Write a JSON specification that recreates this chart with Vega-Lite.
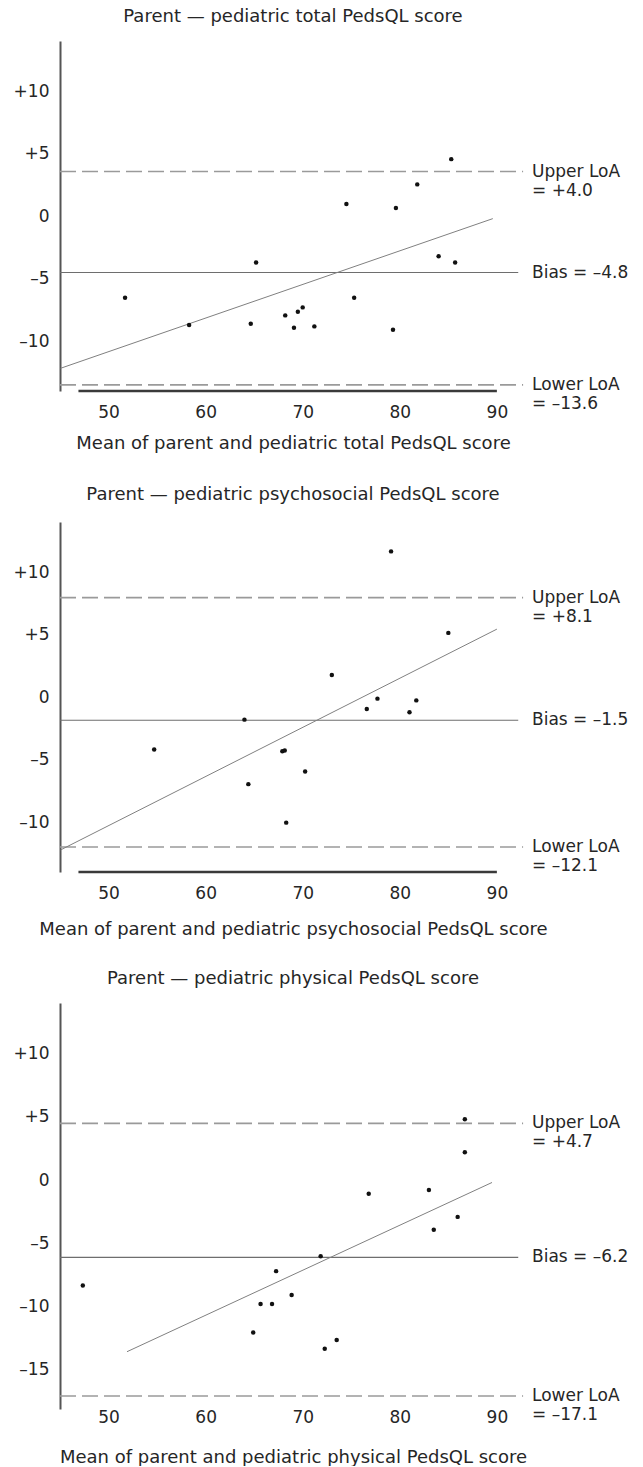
{
  "$schema": "https://vega.github.io/schema/vega-lite/v6.json",
  "usermeta": {"embedOptions": {"actions": false}},
  "background": "white",
  "padding": {"left": 13, "top": 8, "right": 0, "bottom": 0},
  "bounds": "flush",
  "spacing": 131,
  "datasets": {
    "pts": [
      {"p": 1, "x": 51.7, "y": -6.54}, {"p": 1, "x": 58.3, "y": -8.72}, {"p": 1, "x": 64.65, "y": -8.62},
      {"p": 1, "x": 65.2, "y": -3.72}, {"p": 1, "x": 68.2, "y": -7.95}, {"p": 1, "x": 69.1, "y": -8.94},
      {"p": 1, "x": 69.5, "y": -7.66}, {"p": 1, "x": 70.0, "y": -7.31}, {"p": 1, "x": 71.2, "y": -8.83},
      {"p": 1, "x": 74.5, "y": 0.96}, {"p": 1, "x": 75.3, "y": -6.54}, {"p": 1, "x": 79.3, "y": -9.1},
      {"p": 1, "x": 79.6, "y": 0.64}, {"p": 1, "x": 81.8, "y": 2.53}, {"p": 1, "x": 84.0, "y": -3.22},
      {"p": 1, "x": 85.3, "y": 4.55}, {"p": 1, "x": 85.7, "y": -3.72},
      {"p": 2, "x": 54.7, "y": -4.2}, {"p": 2, "x": 64.0, "y": -1.81}, {"p": 2, "x": 64.4, "y": -6.97},
      {"p": 2, "x": 67.9, "y": -4.34}, {"p": 2, "x": 68.15, "y": -4.28}, {"p": 2, "x": 68.3, "y": -10.05},
      {"p": 2, "x": 70.25, "y": -5.96}, {"p": 2, "x": 73.0, "y": 1.76}, {"p": 2, "x": 76.6, "y": -0.96},
      {"p": 2, "x": 77.7, "y": -0.13}, {"p": 2, "x": 79.1, "y": 11.65}, {"p": 2, "x": 81.0, "y": -1.22},
      {"p": 2, "x": 81.7, "y": -0.27}, {"p": 2, "x": 85.0, "y": 5.13},
      {"p": 3, "x": 47.35, "y": -8.33}, {"p": 3, "x": 64.9, "y": -12.06}, {"p": 3, "x": 65.66, "y": -9.79},
      {"p": 3, "x": 66.84, "y": -9.79}, {"p": 3, "x": 67.26, "y": -7.2}, {"p": 3, "x": 68.86, "y": -9.08},
      {"p": 3, "x": 71.85, "y": -6.03}, {"p": 3, "x": 72.27, "y": -13.33}, {"p": 3, "x": 73.5, "y": -12.65},
      {"p": 3, "x": 76.8, "y": -1.08}, {"p": 3, "x": 83.0, "y": -0.79}, {"p": 3, "x": 83.5, "y": -3.92},
      {"p": 3, "x": 85.96, "y": -2.91}, {"p": 3, "x": 86.7, "y": 2.2}, {"p": 3, "x": 86.7, "y": 4.81}
    ],
    "refs": [
      {"p": 1, "k": "loa", "x": 45, "x2": 92.7, "y": 3.56},
      {"p": 1, "k": "loa", "x": 45, "x2": 92.7, "y": -13.51},
      {"p": 1, "k": "bias", "x": 45, "x2": 92.2, "y": -4.52},
      {"p": 1, "k": "base", "x": 46.9, "x2": 90, "y": -14},
      {"p": 2, "k": "loa", "x": 45, "x2": 92.7, "y": 7.95},
      {"p": 2, "k": "loa", "x": 45, "x2": 92.7, "y": -12.0},
      {"p": 2, "k": "bias", "x": 45, "x2": 92.2, "y": -1.86},
      {"p": 2, "k": "base", "x": 46.9, "x2": 90, "y": -14},
      {"p": 3, "k": "loa", "x": 45, "x2": 92.7, "y": 4.48},
      {"p": 3, "k": "loa", "x": 45, "x2": 92.7, "y": -17.07},
      {"p": 3, "k": "bias", "x": 45, "x2": 92.2, "y": -6.11}
    ],
    "reg": [
      {"p": 1, "x": 45.07, "y": -12.18}, {"p": 1, "x": 89.58, "y": -0.21},
      {"p": 2, "x": 45.07, "y": -12.23}, {"p": 2, "x": 90.0, "y": 5.43},
      {"p": 3, "x": 51.9, "y": -13.57}, {"p": 3, "x": 89.5, "y": -0.19}
    ],
    "labs": [
      {"p": 1, "x": 93, "y": 3.56, "t": "Upper LoA\n= +4.0"},
      {"p": 1, "x": 93, "y": -4.52, "t": "Bias = –4.8"},
      {"p": 1, "x": 93, "y": -13.51, "t": "Lower LoA\n= –13.6"},
      {"p": 2, "x": 93, "y": 7.95, "t": "Upper LoA\n= +8.1"},
      {"p": 2, "x": 93, "y": -1.86, "t": "Bias = –1.5"},
      {"p": 2, "x": 93, "y": -12.0, "t": "Lower LoA\n= –12.1"},
      {"p": 3, "x": 93, "y": 4.48, "t": "Upper LoA\n= +4.7"},
      {"p": 3, "x": 93, "y": -6.11, "t": "Bias = –6.2"},
      {"p": 3, "x": 93, "y": -17.07, "t": "Lower LoA\n= –17.1"}
    ]
  },
  "vconcat": [
    {
      "width": 466, "height": 350,
      "title": {"text": "Parent — pediatric total PedsQL score", "offset": 1, "baseline": "alphabetic"},
      "encoding": {
        "x": {"field": "x", "type": "quantitative", "scale": {"domain": [45, 93], "nice": false, "zero": false},
              "axis": {"values": [50, 60, 70, 80, 90], "labelOverlap": false, "labelBound": false, "labelFlush": false, "labelPadding": 13, "titlePadding": 14, "title": "Mean of parent and pediatric total PedsQL score"}},
        "y": {"field": "y", "type": "quantitative", "scale": {"domain": [-14, 14], "nice": false, "zero": false},
              "axis": {"values": [10, 5, 0, -5, -10], "title": null}}
      },
      "layer": [
        {"data": {"name": "refs"}, "transform": [{"filter": "datum.p == 1 && datum.k == 'loa'"}], "mark": {"type": "rule", "color": "#9a9a9a", "strokeWidth": 1.6, "strokeDash": [16, 6]}, "encoding": {"x2": {"field": "x2"}}},
        {"data": {"name": "refs"}, "transform": [{"filter": "datum.p == 1 && datum.k == 'bias'"}], "mark": {"type": "rule", "color": "#6e6e6e", "strokeWidth": 1.2}, "encoding": {"x2": {"field": "x2"}}},
        {"data": {"name": "refs"}, "transform": [{"filter": "datum.p == 1 && datum.k == 'base'"}], "mark": {"type": "rule", "color": "#3a3a3a", "strokeWidth": 2.5}, "encoding": {"x2": {"field": "x2"}}},
        {"data": {"name": "reg"}, "transform": [{"filter": "datum.p == 1"}], "mark": {"type": "line", "color": "#808080", "strokeWidth": 1}, "encoding": {}},
        {"data": {"name": "pts"}, "transform": [{"filter": "datum.p == 1"}], "mark": {"type": "circle", "color": "#111", "size": 20, "opacity": 1}, "encoding": {}},
        {"data": {"name": "labs"}, "transform": [{"filter": "datum.p == 1"}], "mark": {"type": "text", "align": "left", "baseline": "middle", "dx": 6, "lineBreak": "\n", "lineHeight": 19, "fontSize": 17, "color": "#262626"}, "encoding": {"text": {"field": "t"}}}
      ]
    },
    {
      "width": 466, "height": 350,
      "title": {"text": "Parent — pediatric psychosocial PedsQL score", "offset": 4, "baseline": "alphabetic"},
      "encoding": {
        "x": {"field": "x", "type": "quantitative", "scale": {"domain": [45, 93], "nice": false, "zero": false},
              "axis": {"values": [50, 60, 70, 80, 90], "labelOverlap": false, "labelBound": false, "labelFlush": false, "labelPadding": 13, "titlePadding": 19, "title": "Mean of parent and pediatric  psychosocial PedsQL score"}},
        "y": {"field": "y", "type": "quantitative", "scale": {"domain": [-14, 14], "nice": false, "zero": false},
              "axis": {"values": [10, 5, 0, -5, -10], "title": null}}
      },
      "layer": [
        {"data": {"name": "refs"}, "transform": [{"filter": "datum.p == 2 && datum.k == 'loa'"}], "mark": {"type": "rule", "color": "#9a9a9a", "strokeWidth": 1.6, "strokeDash": [16, 6]}, "encoding": {"x2": {"field": "x2"}}},
        {"data": {"name": "refs"}, "transform": [{"filter": "datum.p == 2 && datum.k == 'bias'"}], "mark": {"type": "rule", "color": "#6e6e6e", "strokeWidth": 1.2}, "encoding": {"x2": {"field": "x2"}}},
        {"data": {"name": "refs"}, "transform": [{"filter": "datum.p == 2 && datum.k == 'base'"}], "mark": {"type": "rule", "color": "#3a3a3a", "strokeWidth": 2.5}, "encoding": {"x2": {"field": "x2"}}},
        {"data": {"name": "reg"}, "transform": [{"filter": "datum.p == 2"}], "mark": {"type": "line", "color": "#808080", "strokeWidth": 1}, "encoding": {}},
        {"data": {"name": "pts"}, "transform": [{"filter": "datum.p == 2"}], "mark": {"type": "circle", "color": "#111", "size": 20, "opacity": 1}, "encoding": {}},
        {"data": {"name": "labs"}, "transform": [{"filter": "datum.p == 2"}], "mark": {"type": "text", "align": "left", "baseline": "middle", "dx": 6, "lineBreak": "\n", "lineHeight": 19, "fontSize": 17, "color": "#262626"}, "encoding": {"text": {"field": "t"}}}
      ]
    },
    {
      "width": 466, "height": 406,
      "title": {"text": "Parent — pediatric  physical PedsQL score", "offset": 1, "baseline": "alphabetic"},
      "encoding": {
        "x": {"field": "x", "type": "quantitative", "scale": {"domain": [45, 93], "nice": false, "zero": false},
              "axis": {"values": [50, 60, 70, 80, 90], "labelOverlap": false, "labelBound": false, "labelFlush": false, "labelPadding": 0, "titlePadding": 23, "title": "Mean of parent and pediatric  physical PedsQL score"}},
        "y": {"field": "y", "type": "quantitative", "scale": {"domain": [-18.1, 14], "nice": false, "zero": false},
              "axis": {"values": [10, 5, 0, -5, -10, -15], "title": null}}
      },
      "layer": [
        {"data": {"name": "refs"}, "transform": [{"filter": "datum.p == 3 && datum.k == 'loa'"}], "mark": {"type": "rule", "color": "#9a9a9a", "strokeWidth": 1.6, "strokeDash": [16, 6]}, "encoding": {"x2": {"field": "x2"}}},
        {"data": {"name": "refs"}, "transform": [{"filter": "datum.p == 3 && datum.k == 'bias'"}], "mark": {"type": "rule", "color": "#6e6e6e", "strokeWidth": 1.2}, "encoding": {"x2": {"field": "x2"}}},
        {"data": {"name": "reg"}, "transform": [{"filter": "datum.p == 3"}], "mark": {"type": "line", "color": "#808080", "strokeWidth": 1}, "encoding": {}},
        {"data": {"name": "pts"}, "transform": [{"filter": "datum.p == 3"}], "mark": {"type": "circle", "color": "#111", "size": 20, "opacity": 1}, "encoding": {}},
        {"data": {"name": "labs"}, "transform": [{"filter": "datum.p == 3"}], "mark": {"type": "text", "align": "left", "baseline": "middle", "dx": 6, "lineBreak": "\n", "lineHeight": 19, "fontSize": 17, "color": "#262626"}, "encoding": {"text": {"field": "t"}}}
      ]
    }
  ],
  "config": {
    "font": "DejaVu Sans",
    "view": {"stroke": null},
    "title": {"fontSize": 18, "fontWeight": "normal", "color": "#262626", "anchor": "middle", "font": "DejaVu Sans"},
    "axis": {"grid": false, "ticks": false, "tickSize": 0, "labelFontSize": 17, "labelColor": "#262626", "titleFontSize": 18, "titleFontWeight": "normal", "titleColor": "#262626", "labelFont": "DejaVu Sans", "titleFont": "DejaVu Sans", "labelOverlap": false, "labelBound": false},
    "axisX": {"domain": false, "labelFlush": false},
    "axisY": {"domain": true, "domainColor": "#555555", "domainWidth": 2, "labelPadding": 11, "labelExpr": "datum.value > 0 ? '+' + datum.value : (datum.value < 0 ? '–' + abs(datum.value) : '0')"}
  }
}
